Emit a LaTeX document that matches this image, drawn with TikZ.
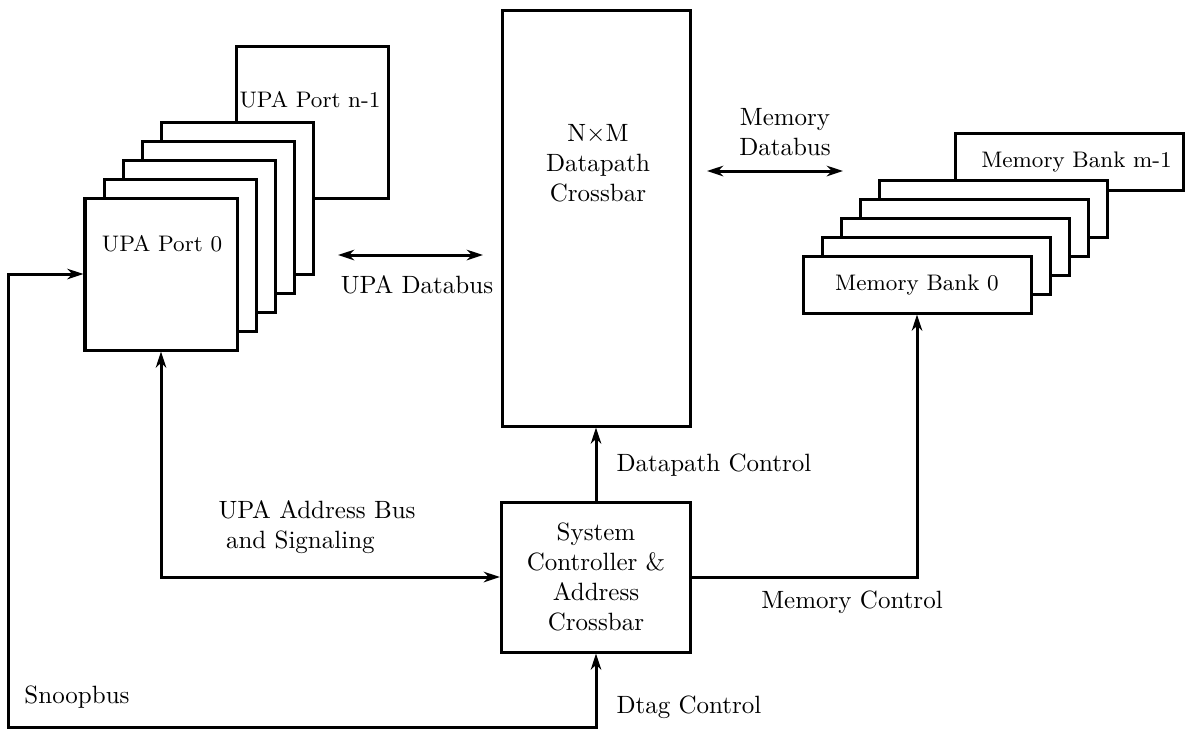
\documentclass[tikz,border=0pt]{standalone}
\usetikzlibrary{arrows.meta}
\begin{document}
\begin{tikzpicture}[x=0.4pt,y=-0.4pt,
  line width=1.2pt,
  >={Stealth[length=6.5pt,width=4.2pt,inset=2pt]},
  port/.style={draw,fill=white,minimum width=60.8pt,minimum height=60.8pt,inner sep=0pt},
  bank/.style={draw,fill=white,minimum width=91.2pt,minimum height=22.8pt,inner sep=0pt,font=\small},
  blk/.style={draw,fill=white,inner sep=0pt},
  lbl/.style={inner sep=0pt,align=center}]
\useasboundingbox (0,0) rectangle (1186,729);
% UPA ports (back to front)
\node[port] (portn) at (312,122) {};
\node[lbl,font=\small] (portnt) at (310,100) {UPA Port n-1};
\node[port] (port4) at (237,198) {};
\node[port] (port3) at (218,217) {};
\node[port] (port2) at (199,236) {};
\node[port] (port1) at (180,255) {};
\node[port] (port0) at (161,274) {};
\node[lbl,font=\small] (port0t) at (162,244) {UPA Port 0};
% crossbar
\node[blk,minimum width=75.2pt,minimum height=166.4pt] (xbar) at (596,218) {};
\node[lbl] (xbart) at (598,163) {N$\times$M\\Datapath\\Crossbar};
% memory banks
\node[bank] (bankm) at (1069,161.5) {\hspace{6pt}Memory Bank m-1};
\node[bank] (bank4) at (993,208.5) {};
\node[bank] (bank3) at (974,227.5) {};
\node[bank] (bank2) at (955,246.5) {};
\node[bank] (bank1) at (936,265.5) {};
\node[bank] (bank0) at (917,284.5) {Memory Bank 0};
% system controller
\node[blk,minimum width=75.6pt,minimum height=60pt,align=center] (sys) at (596,577) {System\\Controller \&\\Address\\Crossbar};
% free ends
\coordinate (udl) at (338,255);
\coordinate (udr) at (483,255);
\coordinate (mdl) at (707,171);
\coordinate (mdr) at (843,171);
\coordinate (snc) at (8,727);
% connectors
\draw[<->] (udl) -- (udr);
\draw[<->] (mdl) -- (mdr);
\draw[->] (sys.north) -- (xbar.south);
\draw[->] (sys.east) -| (bank0.south);
\draw[<->] (port0.south) |- (sys.west);
\draw[<->] (port0.west) -| (snc) -| (sys.south);
% labels
\node[lbl] (udt) at (417,285) {UPA Databus};
\node[lbl] (mdt) at (785,132) {Memory\\Databus};
\node[lbl,anchor=west,align=left] (uat) at (217,527) {UPA Address Bus\\\hspace{3pt}and Signaling};
\node[lbl,anchor=west] (dct) at (615,465) {Datapath Control};
\node[lbl] (mct) at (852,602) {Memory Control};
\node[lbl] (snt) at (77,697) {Snoopbus};
\node[lbl,anchor=west] (dtt) at (615,707) {Dtag Control};
\end{tikzpicture}
\end{document}
